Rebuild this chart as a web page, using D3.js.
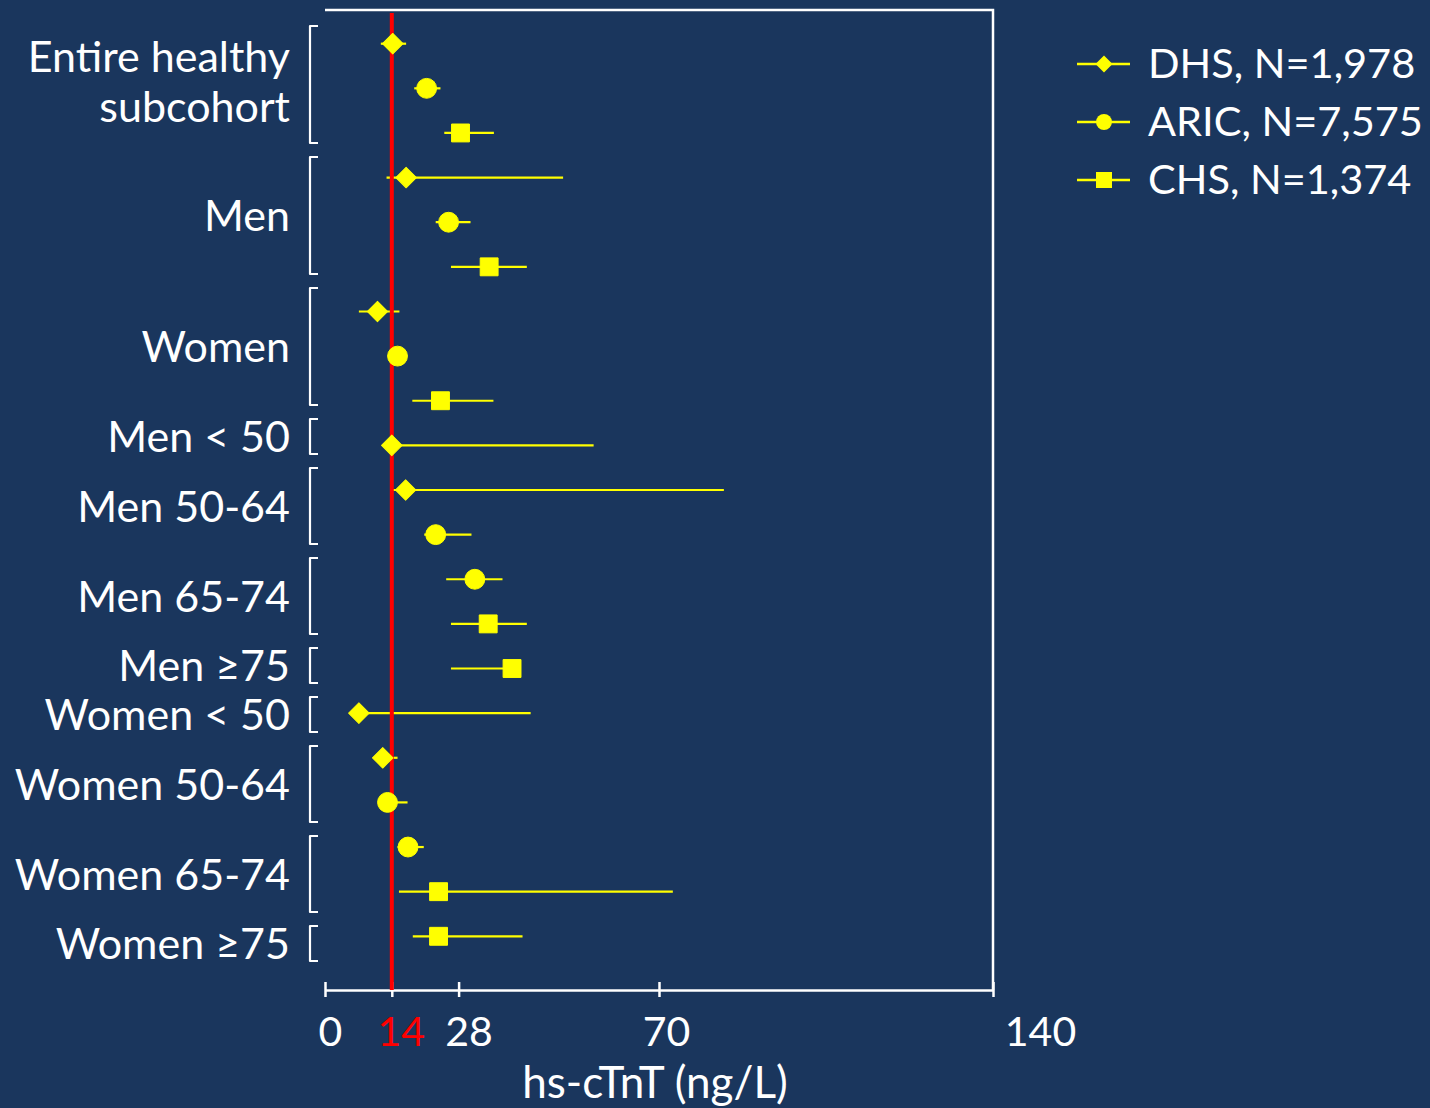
<!DOCTYPE html>
<html>
<head>
<meta charset="utf-8">
<script src="https://cdn.jsdelivr.net/npm/d3@7"></script>
<style>
  html, body { margin: 0; padding: 0; background: #1a365d; }
  svg { display: block; }
  text { font-family: Lato, "Open Sans", sans-serif; fill: #ffffff; }
</style>
</head>
<body>
<svg id="chart" width="1430" height="1108"></svg>
<script>
// Subgroups shown on the left, each spanning one or more rows
const groups = [
  ["Entire healthy", "subcohort"],
  ["Men"],
  ["Women"],
  ["Men < 50"],
  ["Men 50-64"],
  ["Men 65-74"],
  ["Men \u226575"],
  ["Women < 50"],
  ["Women 50-64"],
  ["Women 65-74"],
  ["Women \u226575"]
];

// Cohorts (legend entries)
const cohorts = ["DHS, N=1,978", "ARIC, N=7,575", "CHS, N=1,374"];

// One entry per plotted row: subgroup, cohort, 99th percentile and its confidence limits (ng/L)
const rowGroup  = [0, 0, 0, 1, 1, 1, 2, 2, 2, 3, 4, 4, 5, 5, 6, 7, 8, 8, 9, 9, 10];
const rowCohort = [0, 1, 2, 0, 1, 2, 0, 1, 2, 0, 0, 1, 1, 2, 2, 0, 0, 1, 1, 2, 2];
const rowValue  = [14.2, 21.3, 28.4, 17.0, 25.9, 34.4, 11.0, 15.2, 24.2, 14.0, 16.9, 23.2, 31.4, 34.2, 39.2, 7.1, 12.1, 13.1, 17.4, 23.8, 23.8];
const rowLow    = [11.7, 18.7, 25.0, 12.9, 23.2, 26.4, 7.1, 14.0, 18.3, 13.0, 14.1, 20.8, 25.4, 26.4, 26.4, 6.0, 10.5, 11.5, 15.2, 15.5, 18.4];
const rowHigh   = [17.0, 24.2, 35.4, 49.9, 30.5, 42.3, 15.6, 16.4, 35.3, 56.3, 83.6, 30.7, 37.2, 42.3, 40.0, 43.1, 15.2, 17.3, 20.7, 72.9, 41.4];

// Axis
const xTicks = [0, 14, 28, 70, 140];
const xMax = 140;
const cutoff = 14;
const xTitle = "hs-cTnT (ng/L)";

const W = 1430, H = 1108;
const plot = { left: 325, right: 993, top: 10, bottom: 990 };
const yellow = "#ffff00", red = "#ff0000", white = "#ffffff";

const svg = d3.select("#chart");
svg.append("rect").attr("width", W).attr("height", H).attr("fill", "#1a365d");

const x = d3.scaleLinear().domain([0, xMax]).range([plot.left, plot.right]);
const nRows = rowValue.length;
const y = d3.scaleLinear().domain([0, nRows - 1]).range([43.7, 936.3]);

const rows = d3.range(nRows).map(i => ({
  i, group: rowGroup[i], cohort: rowCohort[i],
  value: rowValue[i], low: rowLow[i], high: rowHigh[i]
}));

// Frame: top and right edges
svg.append("path")
  .attr("d", `M${plot.left},${plot.top}H${plot.right}V${plot.bottom}`)
  .attr("fill", "none").attr("stroke", white).attr("stroke-width", 2.5);

// X axis
const axis = d3.axisBottom(x).tickValues(xTicks).tickSizeOuter(0).tickSizeInner(7).tickFormat(d3.format("d"));
const gAxis = svg.append("g").attr("transform", `translate(0,${plot.bottom})`).call(axis);
gAxis.select(".domain").attr("stroke", white).attr("stroke-width", 2.5);
gAxis.selectAll(".tick line").attr("stroke", white).attr("stroke-width", 2.5).attr("y1", -8).attr("y2", 7);
const tickShift = { 0: 5, 14: 9, 28: 10, 70: 7, 140: 47 };
gAxis.selectAll(".tick text")
  .attr("y", 56).attr("dy", 0)
  .attr("dx", d => tickShift[d])
  .attr("font-size", 41)
  .attr("font-family", "Lato, 'Open Sans', sans-serif")
  .style("fill", d => d === cutoff ? red : white);

svg.append("text")
  .attr("x", (plot.left + plot.right) / 2 - 4).attr("y", 1098)
  .attr("text-anchor", "middle").attr("font-size", 44)
  .text(xTitle);

// Confidence intervals
svg.append("g").selectAll("line").data(rows).join("line")
  .attr("x1", d => x(d.low)).attr("x2", d => x(d.high))
  .attr("y1", d => y(d.i)).attr("y2", d => y(d.i))
  .attr("stroke", yellow).attr("stroke-width", 2.2);

// Reference cut-off line
svg.append("line")
  .attr("x1", x(cutoff)).attr("x2", x(cutoff))
  .attr("y1", plot.top + 3).attr("y2", plot.bottom)
  .attr("stroke", red).attr("stroke-width", 4);

// Markers per cohort
const markerPath = c => {
  if (c === 0) return d3.symbol(d3.symbolSquare, 210)();
  if (c === 1) return d3.symbol(d3.symbolCircle, 310)();
  return d3.symbol(d3.symbolSquare, 320)();
};
const markerRot = c => c === 0 ? 45 : 0;

svg.append("g").selectAll("path").data(rows).join("path")
  .attr("d", d => markerPath(d.cohort))
  .attr("transform", d => `translate(${x(d.value)},${y(d.i)}) rotate(${markerRot(d.cohort)})`)
  .attr("fill", yellow).attr("stroke", yellow).attr("stroke-width", 1).attr("stroke-linejoin", "round");

// Group brackets stacked top to bottom: height grows with the number of rows, fixed gap between
const bracketPerRow = 41, bracketInset = 6, bracketGap = 14, bracketStart = 26;
let cursor = bracketStart;
const groupInfo = groups.map((lines, g) => {
  const n = rows.filter(r => r.group === g).length;
  const top = cursor;
  const bottom = top + bracketPerRow * n - bracketInset;
  cursor = bottom + bracketGap;
  return { lines, top, bottom, center: (top + bottom) / 2 };
});

svg.append("g").selectAll("path").data(groupInfo).join("path")
  .attr("d", d => `M318,${d.top}H310V${d.bottom}H318`)
  .attr("fill", "none").attr("stroke", white).attr("stroke-width", 2.2).attr("stroke-linejoin", "round");

const gl = svg.append("g").selectAll("text").data(groupInfo).join("text")
  .attr("text-anchor", "end").attr("font-size", 43);
gl.selectAll("tspan").data(d => d.lines.map((t, k) => ({ t, k, n: d.lines.length, c: d.center }))).join("tspan")
  .attr("x", 290)
  .attr("y", d => d.c + 15.5 + (d.k - (d.n - 1) / 2) * 50 - (d.n > 1 ? 3 : 0))
  .text(d => d.t);

// Legend
const legend = svg.append("g").selectAll("g").data(cohorts).join("g")
  .attr("transform", (d, k) => `translate(1104,${64 + k * 58})`);
legend.append("line").attr("x1", -27).attr("x2", 26)
  .attr("stroke", yellow).attr("stroke-width", 2.5);
legend.append("path")
  .attr("d", (d, k) => k === 0 ? d3.symbol(d3.symbolSquare, 145)() : k === 1 ? d3.symbol(d3.symbolCircle, 200)() : d3.symbol(d3.symbolSquare, 256)())
  .attr("transform", (d, k) => `rotate(${markerRot(k)})`)
  .attr("fill", yellow);
legend.append("text").attr("x", 44).attr("y", 14).attr("font-size", 41.5).text(d => d);
</script>
</body>
</html>
